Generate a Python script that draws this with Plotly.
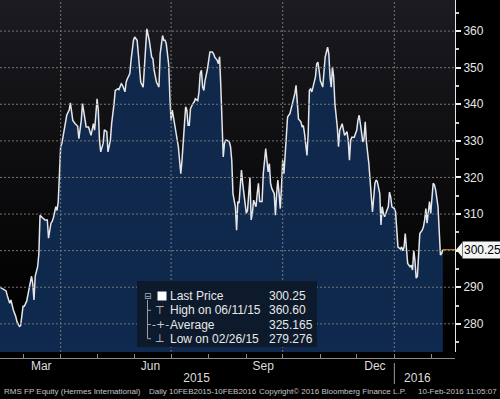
import base64
import datetime as dt
import plotly.graph_objects as go

# ---------------- data ----------------
START_DATE = "2015-02-10"
# days after START_DATE
DAYS = [0, 3, 5, 6, 8, 9, 11, 13, 14, 16, 17, 19, 20, 22, 24, 26, 27, 28, 29, 31,
        32, 33, 35, 37, 39, 40, 42, 43, 44, 46, 47, 48, 49, 50, 51, 53, 54, 55, 57, 58,
        59, 60, 62, 63, 64, 65, 67, 68, 70, 71, 73, 74, 75, 77, 78, 80, 81, 82, 83, 85,
        86, 88, 89, 91, 92, 94, 95, 97, 98, 100, 101, 103, 104, 105, 107, 108, 110, 111, 113, 114,
        115, 116, 118, 119, 120, 121, 123, 125, 126, 127, 129, 131, 132, 134, 135, 136, 137, 139, 140, 141,
        142, 143, 144, 145, 147, 148, 149, 150, 151, 152, 153, 154, 155, 156, 157, 159, 160, 161, 163, 164,
        165, 166, 167, 168, 169, 171, 172, 173, 175, 176, 177, 179, 180, 181, 182, 183, 184, 185, 186, 187,
        189, 190, 191, 192, 193, 194, 195, 196, 197, 199, 200, 201, 203, 204, 205, 206, 207, 208, 209, 211,
        212, 213, 214, 216, 217, 218, 219, 221, 222, 223, 224, 226, 227, 228, 229, 230, 231, 232, 233, 234,
        235, 236, 237, 239, 240, 241, 243, 244, 245, 246, 248, 249, 250, 251, 253, 254, 255, 256, 257, 258,
        260, 261, 262, 263, 264, 266, 267, 268, 270, 271, 272, 273, 274, 275, 276, 278, 279, 280, 282, 283,
        284, 286, 287, 288, 289, 290, 292, 293, 294, 295, 296, 297, 299, 300, 301, 302, 303, 304, 305, 306,
        307, 309, 310, 311, 313, 314, 315, 316, 317, 318, 320, 321, 322, 323, 325, 326, 327, 328, 330, 331,
        332, 333, 334, 335, 336, 338, 339, 340, 341, 342, 343, 344, 345, 346, 348, 349, 350, 351, 352, 353,
        354, 355, 356, 357, 358, 359, 361, 362, 363, 364, 365]
PRICES = [290.0, 289.5, 289.0, 287.7, 285.6, 286.5, 283.8, 282.0, 280.6, 279.276, 279.5, 284.8, 284.8, 286.2, 290.0, 293.0, 291.0, 286.5, 293.0, 295.6,
          299.0, 309.7, 309.0, 308.4, 308.4, 303.4, 307.5, 308.0, 309.0, 312.0, 311.0, 313.4, 321.0, 328.4, 329.3, 333.0, 335.6, 337.0, 338.4, 340.4,
          338.0, 335.6, 334.7, 334.3, 334.0, 330.6, 335.6, 340.2, 335.6, 333.8, 333.8, 332.9, 331.5, 334.7, 332.9, 341.5, 338.4, 330.2, 327.0, 329.3,
          333.0, 332.5, 327.0, 330.2, 334.7, 340.2, 343.8, 344.2, 344.0, 345.6, 345.2, 343.4, 346.1, 347.0, 348.4, 352.0, 357.5, 358.4, 357.5, 353.8,
          348.4, 346.0, 344.7, 350.2, 357.5, 360.6, 357.5, 352.9, 352.5, 349.3, 346.0, 344.7, 353.8, 358.8, 357.5, 357.5, 356.6, 351.0, 342.0, 335.6,
          338.4, 336.5, 334.7, 332.9, 328.4, 324.7, 321.0, 324.7, 329.3, 335.6, 339.3, 338.4, 334.3, 334.3, 338.8, 340.2, 340.6, 341.5, 341.0, 343.4,
          348.4, 349.3, 344.7, 343.8, 346.5, 349.7, 351.5, 354.3, 354.3, 353.8, 352.9, 352.0, 351.1, 353.0, 344.7, 333.8, 325.6, 329.3, 330.2, 330.2,
          329.7, 328.4, 324.7, 315.6, 313.8, 312.0, 305.6, 313.4, 313.0, 322.0, 318.4, 315.6, 310.2, 311.0, 314.7, 320.0, 308.4, 310.2, 313.8, 312.0,
          315.6, 318.4, 313.4, 313.4, 321.0, 325.6, 327.9, 321.5, 323.8, 318.4, 317.0, 315.6, 309.7, 315.6, 319.3, 315.6, 311.5, 317.5, 324.7, 321.0,
          325.6, 331.0, 336.5, 337.5, 338.8, 340.6, 342.9, 345.2, 340.2, 336.0, 335.2, 333.8, 334.2, 332.0, 326.0, 332.0, 343.8, 344.2, 343.4, 344.7,
          347.5, 351.0, 351.5, 349.3, 346.5, 344.7, 349.3, 352.9, 355.6, 353.8, 347.5, 344.7, 350.2, 347.5, 340.2, 333.8, 328.4, 332.9, 334.7, 333.0,
          331.5, 332.5, 330.2, 324.7, 330.2, 331.0, 331.0, 332.0, 332.9, 335.6, 337.0, 334.7, 329.7, 330.6, 335.2, 329.7, 327.4, 323.8, 319.3, 314.7,
          310.6, 318.4, 319.3, 318.8, 315.6, 307.0, 312.0, 310.2, 309.3, 310.2, 312.0, 316.0, 314.7, 312.0, 311.5, 310.6, 306.5, 301.0, 300.5, 301.0,
          300.0, 301.0, 304.7, 301.0, 296.5, 295.6, 296.0, 294.7, 300.0, 297.3, 292.5, 293.0, 298.9, 304.7, 305.6, 306.5, 308.4, 311.5, 307.5, 310.6,
          313.4, 310.2, 315.6, 318.4, 318.0, 316.7, 312.0, 304.7, 298.8, 299.2, 300.25]

LAST_PRICE = 300.25
LEGEND_LABELS = ["Last Price", "High on 06/11/15", "Average", "Low on 02/26/15"]
LEGEND_VALUES = ["300.25", "360.60", "325.165", "279.276"]
LEGEND_ICONS = ["", "⊤", "-+-", "⊥"]

Y_TICKS = [280, 290, 300, 310, 320, 330, 340, 350, 360]
Y_TICKTEXT = ["280", "290", "", "310", "320", "330", "340", "350", "360"]
Y_MINOR = [275, 285, 295, 305, 315, 325, 335, 345, 355, 365]
MONTH_LABEL_DATES = ["2015-03-16", "2015-06-14", "2015-09-15", "2015-12-16"]
MONTH_LABELS = ["Mar", "Jun", "Sep", "Dec"]
YEAR_LABEL_DATES = ["2015-07-22", "2016-01-20"]
YEAR_LABELS = ["2015", "2016"]
QUARTER_STARTS = ["2015-04-01", "2015-07-01", "2015-10-01", "2016-01-01"]
X_RANGE = ["2015-02-10", "2016-02-20"]
Y_RANGE = [272.3, 368.5]
FOOTER = [("RMS FP Equity (Hermes International)", 2, "left"),
          ("Daily 10FEB2015-10FEB2016", 147, "left"),
          ("Copyright\u00a9 2016 Bloomberg Finance L.P.", 257, "left"),
          ("10-Feb-2016 11:05:07", 499, "right")]

# ---------------- figure ----------------
W, H = 500, 399
MB = 41
PH = H - MB  # paper height in px
XDOM = 455 / W
YDOM0 = 6 / PH
Y_PER_PX = (Y_RANGE[1] - Y_RANGE[0]) / (PH * (1 - YDOM0))


def py(p):
    return (PH - p) / PH


start = dt.date.fromisoformat(START_DATE)
dates = [(start + dt.timedelta(days=d)).isoformat() for d in DAYS]

FONT = "Liberation Sans, Arial, sans-serif"

fig = go.Figure()
fig.add_trace(go.Scatter(
    x=dates, y=PRICES, mode="lines",
    line=dict(color="#e4e6ea", width=1.5),
    fill="tozeroy",
    fillgradient=dict(type="vertical",
                      colorscale=[[0, "#0a2e59"], [1, "#10284a"]]),
    hoverinfo="skip", showlegend=False))
# helper trace for the year axis
fig.add_trace(go.Scatter(x=[dates[0]], y=[PRICES[0]], xaxis="x2", mode="markers",
                         marker=dict(opacity=0), hoverinfo="skip", showlegend=False))

# background gradient
svg = ('<svg xmlns="http://www.w3.org/2000/svg" width="10" height="100" viewBox="0 0 10 100" '
       'preserveAspectRatio="none"><defs><linearGradient id="g" x1="0" y1="0" x2="0" y2="1">'
       '<stop offset="0" stop-color="#1b1b20"/><stop offset="0.85" stop-color="#020202"/>'
       '<stop offset="1" stop-color="#000000"/></linearGradient></defs>'
       '<rect width="10" height="100" fill="url(#g)"/></svg>')
src = "data:image/svg+xml;base64," + base64.b64encode(svg.encode()).decode()
fig.add_layout_image(dict(source=src, xref="paper", yref="paper", x=0, y=1,
                          sizex=XDOM, sizey=1 - YDOM0, sizing="stretch",
                          xanchor="left", yanchor="top", layer="below"))

shapes = []
GRID = dict(color="#767676", width=1, dash="2px,2px")
for v in Y_TICKS:
    shapes.append(dict(type="line", xref="paper", yref="y", x0=0, x1=XDOM, y0=v, y1=v,
                       line=GRID, layer="above"))
for d in QUARTER_STARTS:
    shapes.append(dict(type="line", xref="x", yref="paper", x0=d, x1=d, y0=YDOM0, y1=1,
                       line=GRID, layer="above"))
# last price line
shapes.append(dict(type="line", xref="x", yref="y", x0=dates[-1], x1=X_RANGE[1],
                   y0=LAST_PRICE, y1=LAST_PRICE, line=dict(color="#e89a2c", width=1),
                   layer="above"))
# last price label pointer
dy = 7 * Y_PER_PX
tri = (f"M {456 / W},{LAST_PRICE} L {462 / W},{LAST_PRICE + dy} "
       f"L {462 / W},{LAST_PRICE - dy} Z")
shapes.append(dict(type="path", xref="paper", yref="y", path=tri, fillcolor="#f4f4f4",
                   line=dict(width=0), layer="above"))
# year separator
shapes.append(dict(type="line", xref="x", yref="paper", x0=QUARTER_STARTS[-1],
                   x1=QUARTER_STARTS[-1], y0=py(363), y1=py(384),
                   line=dict(color="#9a9a9a", width=1)))
# legend box
shapes.append(dict(type="rect", xref="paper", yref="paper", x0=137 / W, x1=317 / W,
                   y0=py(347), y1=py(281), fillcolor="#0c1a2c", line=dict(width=0),
                   layer="above"))
ROWS = [296, 310.3, 324.5, 338.7]
# legend white square
shapes.append(dict(type="rect", xref="paper", yref="paper", x0=157.5 / W, x1=166.5 / W,
                   y0=py(300.5), y1=py(291.5), fillcolor="#ffffff", line=dict(width=0),
                   layer="above"))
# tree connector
path = f"M {147.5 / W},{py(300)} L {147.5 / W},{py(ROWS[3])}"
for r in ROWS[1:]:
    path += f" M {147.5 / W},{py(r)} L {151 / W},{py(r)}"
shapes.append(dict(type="path", xref="paper", yref="paper", path=path,
                   line=dict(color="#9aa0a8", width=1), layer="above"))
fig.update_layout(shapes=shapes)

ann = []
TXT = dict(color="#e8e8e8", size=12, family=FONT)
for i, r in enumerate(ROWS):
    ann.append(dict(xref="paper", yref="paper", x=168 / W, y=py(r), text=LEGEND_LABELS[i],
                    xanchor="left", yanchor="middle", showarrow=False, font=TXT))
    ann.append(dict(xref="paper", yref="paper", x=267 / W, y=py(r), text=LEGEND_VALUES[i],
                    xanchor="left", yanchor="middle", showarrow=False, font=TXT))
    if LEGEND_ICONS[i]:
        ann.append(dict(xref="paper", yref="paper", x=160 / W, y=py(r), text=LEGEND_ICONS[i],
                        xanchor="center", yanchor="middle", showarrow=False,
                        font=dict(color="#c8ccd2", size=11, family="DejaVu Sans")))
ann.append(dict(xref="paper", yref="paper", x=147.5 / W, y=py(295.5), text="⊟",
                xanchor="center", yanchor="middle", showarrow=False,
                font=dict(color="#aab0b8", size=9, family="DejaVu Sans")))
# last price label
ann.append(dict(xref="paper", yref="y", x=462 / W, y=LAST_PRICE, text=f"{LAST_PRICE:.2f}",
                xanchor="left", yanchor="middle", showarrow=False, bgcolor="#f4f4f4",
                borderpad=1, font=dict(color="#000000", size=12, family=FONT)))
for text, x, anchor in FOOTER:
    ann.append(dict(xref="paper", yref="paper", x=x / W, y=py(391.5), text=text,
                    xanchor=anchor, yanchor="middle", showarrow=False,
                    font=dict(color="#c4c4c4", size=8, family=FONT)))
fig.update_layout(annotations=ann)

fig.update_layout(
    width=W, height=H,
    margin=dict(l=0, r=0, t=0, b=MB, pad=0),
    paper_bgcolor="#000000", plot_bgcolor="#000000",
    hovermode=False, showlegend=False,
    xaxis=dict(type="date", domain=[0, XDOM], range=X_RANGE, anchor="free", position=0,
               tickmode="array", tickvals=MONTH_LABEL_DATES, ticktext=MONTH_LABELS,
               ticks="", showline=True, linecolor="#8a8a8a", linewidth=1,
               showgrid=False, zeroline=False, ticklabelstandoff=-3,
               tickfont=dict(color="#dcdcdc", size=12, family=FONT),
               minor=dict(ticks="inside", ticklen=4, tickcolor="#8a8a8a", dtick="M1",
                          tick0="2015-01-01", showgrid=False)),
    xaxis2=dict(type="date", domain=[0, XDOM], matches="x", overlaying="x", anchor="free",
                position=0, tickmode="array", tickvals=YEAR_LABEL_DATES, ticktext=YEAR_LABELS,
                ticks="", showline=False, showgrid=False, zeroline=False,
                ticklabelstandoff=11,
                tickfont=dict(color="#dcdcdc", size=12, family=FONT)),
    yaxis=dict(side="right", domain=[YDOM0, 1], range=Y_RANGE, tickmode="array",
               tickvals=Y_TICKS, ticktext=Y_TICKTEXT, showgrid=False, zeroline=False,
               showline=True, linecolor="#e6e6e6", linewidth=1,
               ticks="outside", ticklen=5, tickwidth=2, tickcolor="#f0f0f0",
               tickfont=dict(color="#e6e6e6", size=12, family=FONT),
               minor=dict(tickvals=Y_MINOR, ticks="outside", ticklen=3, tickcolor="#cfcfcf",
                          showgrid=False)),
)

fig.write_html("out.html", config={"displayModeBar": False},
               post_script="document.body.style.margin='0';document.body.style.padding='0';"
                           "document.body.style.background='#000';")
